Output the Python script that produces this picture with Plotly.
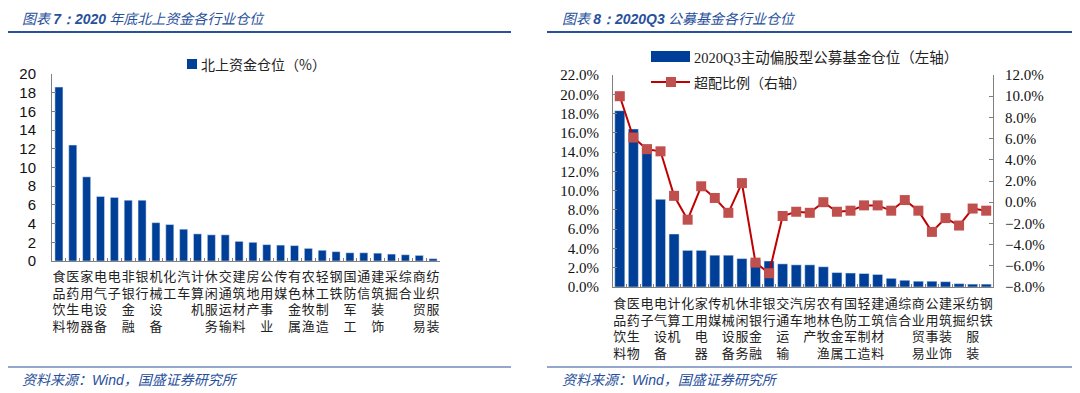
import plotly.graph_objects as go

# page body has an 8px margin: figure is sized so that the page is 1080x393
OFF = 8
W, H = 1080 - OFF, 393 - OFF

# ---------------- data ----------------
left_categories = ["食品饮料", "医药生物", "家用电器", "电气设备", "电子", "非银金融", "银行",
                   "机械设备", "化工", "汽车", "计算机", "休闲服务", "交通运输", "建筑材料",
                   "房地产", "公用事业", "传媒", "有色金属", "农林牧渔", "轻工制造", "钢铁",
                   "国防军工", "通信", "建筑装饰", "采掘", "综合", "商业贸易", "纺织服装"]
left_values = [18.6, 12.4, 9.0, 6.9, 6.8, 6.5, 6.5, 4.1, 3.9, 3.4, 2.9, 2.8, 2.8, 2.1,
               2.0, 1.75, 1.7, 1.65, 1.35, 1.15, 1.0, 0.88, 0.88, 0.84, 0.74, 0.67, 0.6, 0.25]

right_categories = ["食品饮料", "医药生物", "电子", "电气设备", "计算机", "化工", "家用电器",
                    "传媒", "机械设备", "休闲服务", "非银金融", "银行", "交通运输", "汽车",
                    "房地产", "农林牧渔", "有色金属", "国防军工", "轻工制造", "建筑材料", "通信",
                    "综合", "商业贸易", "公用事业", "建筑装饰", "采掘", "纺织服装", "钢铁"]
fund_position = [18.3, 16.4, 14.8, 9.1, 5.5, 3.8, 3.8, 3.3, 3.3, 2.95, 2.8, 2.7, 2.4, 2.3,
                 2.3, 2.1, 1.5, 1.45, 1.4, 1.3, 0.9, 0.7, 0.6, 0.6, 0.55, 0.35, 0.3, 0.3]
overweight = [10.0, 6.1, 5.0, 4.8, 0.6, -1.65, 1.5, 0.4, -1.0, 1.8, -5.7, -6.7, -1.3, -0.9,
              -1.0, 0.0, -0.9, -0.8, -0.3, -0.3, -0.8, 0.2, -0.8, -2.8, -1.5, -2.2, -0.6, -0.8]

left_title = ("图表\u00a0", "7：2020", "\u00a0年底北上资金各行业仓位")
right_title = ("图表\u00a0", "8：2020Q3", "\u00a0公募基金各行业仓位")
source_text = ("资料来源：", "Wind", "，国盛证券研究所")
left_legend = "北上资金仓位（%）"
right_legend_bar = ("2020Q3", "主动偏股型公募基金仓位（左轴）")
right_legend_line = "超配比例（右轴）"

# ---------------- styling ----------------
BLUE = "rgb(0,63,152)"
RED_LINE = "rgb(192,0,0)"
RED_MARK = "rgb(192,80,77)"
TITLE_BLUE = "rgb(40,80,155)"
AXIS_GREY = "rgb(128,128,128)"
CJK = "Noto Sans CJK SC"
SERIF = "Liberation Serif"
SANS = "Liberation Sans"


def X(px):
    return (px - OFF) / W


def Y(py):
    return 1 - (py - OFF) / H


def stack(label):
    return "<br>".join(list(label))


n_left = len(left_categories)
n_right = len(right_categories)

fig = go.Figure()

fig.add_trace(go.Bar(x=left_categories, y=left_values, marker_color=BLUE, width=0.58,
                     xaxis="x", yaxis="y", showlegend=False))
fig.add_trace(go.Bar(x=right_categories, y=fund_position, marker_color=BLUE, width=0.74,
                     xaxis="x2", yaxis="y2", showlegend=False))
fig.add_trace(go.Scatter(x=right_categories, y=overweight, mode="lines+markers",
                         line=dict(color=RED_LINE, width=2),
                         marker=dict(symbol="square", size=10, color=RED_MARK,
                                     line=dict(width=0)),
                         xaxis="x2", yaxis="y3", showlegend=False))

axis_common = dict(showline=True, linecolor=AXIS_GREY, linewidth=1, showgrid=False,
                   zeroline=False, automargin=False)

fig.update_layout(
    width=W, height=H,
    margin=dict(l=0, r=0, t=0, b=0, autoexpand=False),
    paper_bgcolor="white", plot_bgcolor="white",
    showlegend=False,
    xaxis=dict(domain=[X(52), X(440)], anchor="y", type="category",
               range=[-0.5, n_left - 0.5],
               tickmode="array", tickvals=left_categories,
               ticktext=[stack(c) for c in left_categories],
               ticks="inside", tickson="boundaries", ticklen=3, tickcolor=AXIS_GREY,
               tickfont=dict(family=CJK, size=13, color="#222"), tickangle=0,
               ticklabelstandoff=3, **axis_common),
    yaxis=dict(domain=[Y(261), Y(74)], anchor="x", range=[0, 20], dtick=2,
               ticks="inside", ticklen=4, tickcolor=AXIS_GREY,
               tickfont=dict(family=SANS, size=15, color="#111"),
               ticklabelstandoff=12, **axis_common),
    xaxis2=dict(domain=[X(613), X(993)], anchor="y2", type="category",
                range=[-0.5, n_right - 0.5],
                tickmode="array", tickvals=right_categories,
                ticktext=[stack(c) for c in right_categories],
                ticks="inside", tickson="boundaries", ticklen=3, tickcolor=AXIS_GREY,
                tickfont=dict(family=CJK, size=13, color="#222"), tickangle=0,
                ticklabelstandoff=4, **axis_common),
    yaxis2=dict(domain=[Y(287), Y(75)], anchor="x2", range=[0, 22], dtick=2,
                tickformat=".1f", ticksuffix="%",
                ticks="inside", ticklen=4, tickcolor=AXIS_GREY,
                tickfont=dict(family=SERIF, size=15, color="#111"),
                ticklabelstandoff=10, **axis_common),
    yaxis3=dict(overlaying="y2", anchor="x2", side="right", range=[-8, 12], dtick=2,
                tickformat=".1f", ticksuffix="%",
                ticks="inside", ticklen=4, tickcolor=AXIS_GREY,
                tickfont=dict(family=SERIF, size=15, color="#111"),
                ticklabelstandoff=8, **axis_common),
)

shapes = []
annotations = []


def mixed(parts, bold_mid):
    a, b, c = parts
    mid = f"<b>{b}</b>" if bold_mid else b
    return f"<i>{a}<span style='font-family:{SANS}'>{mid}</span>{c}</i>"


# titles, rules and source lines
for x0, x1, tx, title in [(8, 511, 20, left_title), (547, 1080, 560, right_title)]:
    shapes.append(dict(type="line", xref="paper", yref="paper", x0=X(x0), x1=X(x1),
                       y0=Y(32), y1=Y(32), line=dict(color=TITLE_BLUE, width=2)))
    shapes.append(dict(type="line", xref="paper", yref="paper", x0=X(x0), x1=X(x1),
                       y0=Y(367), y1=Y(367), line=dict(color=TITLE_BLUE, width=1)))
    annotations.append(dict(xref="paper", yref="paper", x=X(tx), y=Y(18), text=mixed(title, True),
                            showarrow=False, xanchor="left", yanchor="middle",
                            font=dict(family=CJK, size=14, color=TITLE_BLUE)))
    annotations.append(dict(xref="paper", yref="paper", x=X(tx), y=Y(379), text=mixed(source_text, False),
                            showarrow=False, xanchor="left", yanchor="middle",
                            font=dict(family=CJK, size=14, color=TITLE_BLUE)))

# left legend
shapes.append(dict(type="rect", xref="paper", yref="paper", x0=X(187), x1=X(197),
                   y0=Y(69), y1=Y(59), fillcolor=BLUE, line=dict(width=0)))
annotations.append(dict(xref="paper", yref="paper", x=X(199), y=Y(64), text=left_legend,
                        showarrow=False, xanchor="left", yanchor="middle",
                        font=dict(family=CJK, size=14, color="#222")))

# right legend
shapes.append(dict(type="rect", xref="paper", yref="paper", x0=X(651), x1=X(690),
                   y0=Y(62), y1=Y(51), fillcolor=BLUE, line=dict(width=0)))
annotations.append(dict(xref="paper", yref="paper", x=X(692), y=Y(57),
                        text=f"<span style='font-family:{SERIF}'>{right_legend_bar[0]}</span>{right_legend_bar[1]}",
                        showarrow=False, xanchor="left", yanchor="middle",
                        font=dict(family=CJK, size=14.5, color="#222")))
shapes.append(dict(type="line", xref="paper", yref="paper", x0=X(651), x1=X(690),
                   y0=Y(82), y1=Y(82), line=dict(color=RED_LINE, width=2)))
shapes.append(dict(type="rect", xref="paper", yref="paper", x0=X(666), x1=X(676),
                   y0=Y(87), y1=Y(77), fillcolor=RED_MARK, line=dict(width=0)))
annotations.append(dict(xref="paper", yref="paper", x=X(692), y=Y(82), text=right_legend_line,
                        showarrow=False, xanchor="left", yanchor="middle",
                        font=dict(family=CJK, size=14, color="#222")))

fig.update_layout(shapes=shapes, annotations=annotations)

fig.write_html("out.html")
